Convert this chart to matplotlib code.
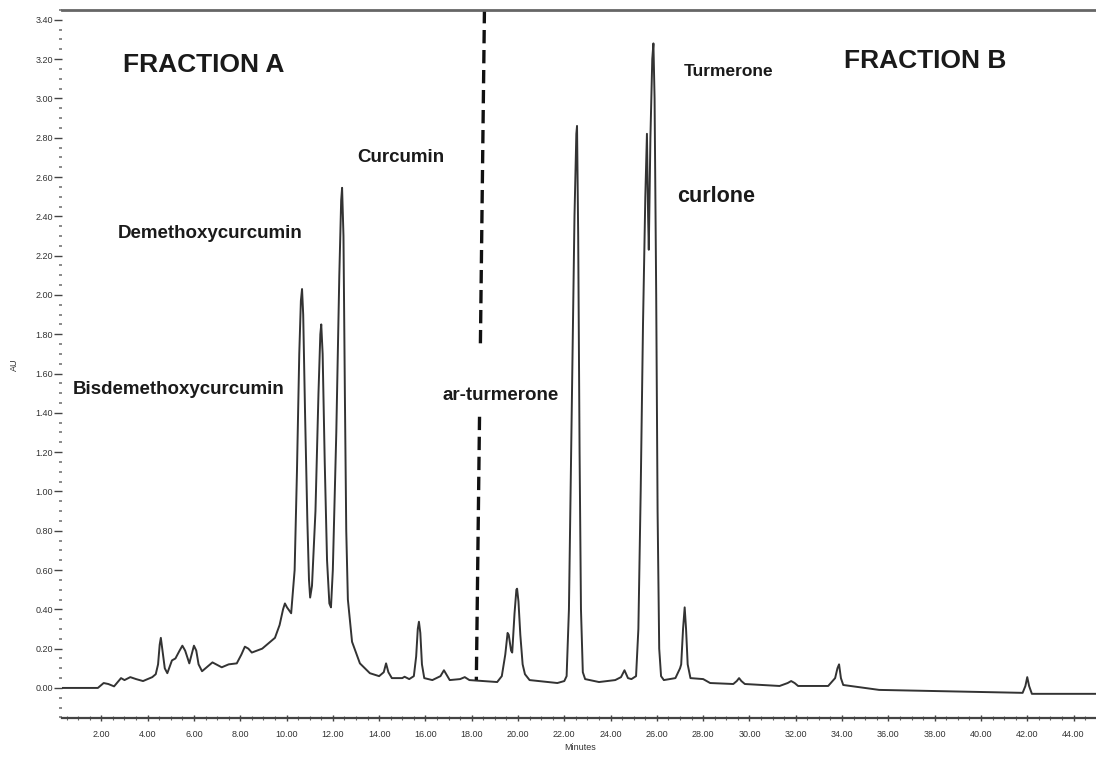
import matplotlib
matplotlib.use("Agg")
import matplotlib.pyplot as plt
from matplotlib.ticker import MultipleLocator, FormatStrFormatter

# ---- data (time in minutes, absorbance in AU) ----
time_min = [0.3, 1.85, 2.1, 2.3, 2.55, 2.85, 3.0, 3.25, 3.5, 3.8, 4.2, 4.35, 4.45, 4.52, 4.57, 4.64, 4.74,
            4.85, 5.05, 5.2, 5.38, 5.5, 5.62, 5.8, 5.92, 6.0, 6.1, 6.2, 6.35, 6.8, 7.2, 7.5, 7.85,
            8.05, 8.2, 8.35, 8.5, 8.95, 9.5, 9.7, 9.85, 9.93, 10.02, 10.2,
            10.35, 10.45, 10.55, 10.62, 10.67, 10.72, 10.8, 10.9, 10.97, 11.02,
            11.1, 11.25, 11.38, 11.46, 11.5, 11.56, 11.65, 11.75, 11.85, 11.92,
            12.0, 12.15, 12.28, 12.36, 12.4, 12.46, 12.52, 12.58, 12.65, 12.83, 13.17, 13.6, 14.0,
            14.2, 14.3, 14.4, 14.55, 15.0, 15.1, 15.3, 15.5, 15.6, 15.67, 15.72, 15.78, 15.85, 15.95,
            16.3, 16.65, 16.8, 16.95, 17.05, 17.5, 17.7, 17.9, 19.1, 19.3, 19.45, 19.55, 19.6, 19.7,
            19.75, 19.85, 19.93, 19.96, 20.02, 20.1, 20.2, 20.3, 20.5, 21.7, 22.0,
            22.1, 22.2, 22.32, 22.44, 22.52, 22.55, 22.6, 22.66, 22.72, 22.8, 22.9,
            23.5, 24.2, 24.45, 24.6, 24.75, 24.9, 25.1,
            25.2, 25.3, 25.4, 25.5, 25.57, 25.62, 25.65, 25.72, 25.8, 25.85, 25.9, 25.97, 26.03,
            26.1, 26.18, 26.3, 26.8, 27.0, 27.05, 27.13, 27.2, 27.26, 27.33, 27.45, 28.0, 28.3,
            29.3, 29.45, 29.55, 29.65, 29.8, 31.3, 31.65, 31.8, 31.95, 32.1, 33.4, 33.7, 33.8,
            33.87, 33.95, 34.05, 35.6, 41.8, 41.92, 42.0, 42.08, 42.2, 45.0]
absorbance = [0.0, 0.0, 0.025, 0.02, 0.008, 0.05, 0.04, 0.055, 0.045, 0.035, 0.055, 0.07, 0.12, 0.22, 0.255, 0.19, 0.1,
              0.075, 0.14, 0.15, 0.19, 0.215, 0.19, 0.125, 0.18, 0.215, 0.19, 0.12, 0.085, 0.13, 0.105, 0.12, 0.125,
              0.17, 0.21, 0.2, 0.18, 0.20, 0.255, 0.32, 0.4, 0.43, 0.41, 0.38,
              0.6, 1.1, 1.7, 1.97, 2.03, 1.9, 1.4, 0.85, 0.55, 0.46,
              0.52, 0.9, 1.5, 1.8, 1.85, 1.7, 1.15, 0.65, 0.43, 0.41,
              0.6, 1.3, 2.1, 2.48, 2.545, 2.3, 1.5, 0.8, 0.45, 0.235, 0.125, 0.075, 0.06,
              0.08, 0.125, 0.08, 0.05, 0.05, 0.057, 0.045, 0.06, 0.16, 0.3, 0.337, 0.28, 0.12, 0.05,
              0.04, 0.06, 0.09, 0.06, 0.04, 0.045, 0.055, 0.04, 0.03, 0.06, 0.17, 0.28, 0.27, 0.19,
              0.18, 0.38, 0.5, 0.505, 0.44, 0.27, 0.12, 0.07, 0.04, 0.025, 0.035,
              0.06, 0.4, 1.4, 2.4, 2.82, 2.86, 2.3, 1.2, 0.4, 0.08, 0.045,
              0.03, 0.04, 0.055, 0.09, 0.05, 0.045, 0.06,
              0.3, 1.0, 1.85, 2.5, 2.82, 2.4, 2.23, 2.8, 3.2, 3.28, 3.0, 2.0, 0.9,
              0.2, 0.06, 0.04, 0.05, 0.1, 0.12, 0.3, 0.41, 0.3, 0.12, 0.05, 0.045, 0.025,
              0.02, 0.035, 0.05, 0.035, 0.02, 0.01, 0.025, 0.035, 0.025, 0.01, 0.01, 0.05, 0.1,
              0.12, 0.05, 0.015, -0.01, -0.025, 0.01, 0.055, 0.01, -0.03, -0.03]

labels = ["FRACTION A", "FRACTION B", "Demethoxycurcumin", "Curcumin",
          "Bisdemethoxycurcumin", "ar-turmerone", "Turmerone", "curlone"]
label_x = [2.94, 34.1, 2.72, 13.05, 0.78, 16.72, 27.17, 26.87]
label_y = [3.17, 3.19, 2.315, 2.70, 1.517, 1.49, 3.135, 2.50]
label_size = [19, 19, 13.5, 13.5, 13.5, 13.5, 12.5, 15.5]

split_top = (18.55, 3.45)
split_gap = (1.72, 1.38)
split_bottom = (18.2, 0.04)

# ---- figure ----
W, H = 1096, 757
fig = plt.figure(figsize=(W / 100, H / 100), dpi=100)
ax = fig.add_axes([62 / W, 1 - 718 / H, 1 - 62 / W, (718 - 10) / H])
ax.set_xlim(0.30, 44.97)
ax.set_ylim(-0.153, 3.45)

ax.plot(time_min, absorbance, color="#333333", lw=1.4, solid_joinstyle="round")

# dashed fraction split line (slightly slanted, with gap for label)
def xs(y):
    (x0, y0), (x1, y1) = split_top, split_bottom
    return x0 + (x1 - x0) * (y - y0) / (y1 - y0)

for ya, yb in [(split_top[1], split_gap[0]), (split_gap[1], split_bottom[1])]:
    ax.plot([xs(ya), xs(yb)], [ya, yb], color="#111111", lw=2.4,
            linestyle=(0, (4, 2)))

for txt, x, y, s in zip(labels, label_x, label_y, label_size):
    ax.text(x, y, txt, fontsize=s, fontweight="bold", family="Liberation Sans",
            color="#1a1a1a", ha="left", va="center")

# spines
ax.spines["right"].set_visible(False)
ax.spines["left"].set_visible(False)
ax.spines["top"].set_color("#666666")
ax.spines["top"].set_linewidth(2.0)
ax.spines["bottom"].set_color("#444444")
ax.spines["bottom"].set_linewidth(1.6)

ax.yaxis.set_major_locator(MultipleLocator(0.2))
ax.yaxis.set_minor_locator(MultipleLocator(0.05))
ax.yaxis.set_major_formatter(FormatStrFormatter("%.2f"))
ax.xaxis.set_major_locator(MultipleLocator(2.0))
ax.xaxis.set_minor_locator(MultipleLocator(0.5))
ax.xaxis.set_major_formatter(FormatStrFormatter("%.2f"))

ax.tick_params(axis="y", which="major", direction="out", length=6, width=1.0,
               color="#444444", labelsize=6.5, labelcolor="#333333", pad=0.5)
ax.tick_params(axis="y", which="minor", direction="out", length=2, width=1.2, color="#777777")
ax.tick_params(axis="x", which="major", direction="inout", length=5, width=1.0,
               color="#444444", labelsize=6.5, labelcolor="#333333", pad=6)
ax.tick_params(axis="x", which="minor", direction="inout", length=2.5, width=0.8, color="#666666")
for lab in ax.get_xticklabels() + ax.get_yticklabels():
    lab.set_family("Liberation Sans")

fig.text(14 / W, 1 - 365 / H, "AU", rotation=90, fontsize=6.5, color="#333333",
         ha="center", va="center", family="Liberation Sans")
fig.text(580 / W, 1 - 748 / H, "Minutes", fontsize=6.5, color="#333333",
         ha="center", va="center", family="Liberation Sans")

fig.savefig("out.png", dpi=100, facecolor="white")
